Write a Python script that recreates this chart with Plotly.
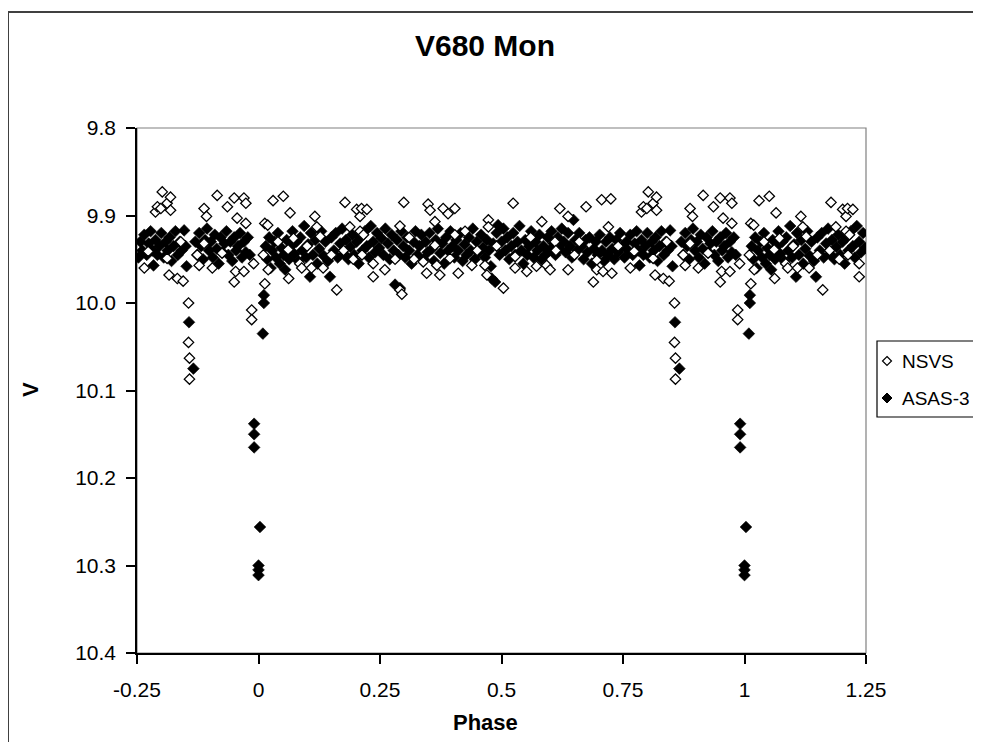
import plotly.graph_objects as go

# ---------------- data (phase 0..1, V magnitude) ----------------
nsvs_phase = [
    0.013, 0.013, 0.019, 0.010, 0.020, 0.030, 0.051, 0.065, 0.072, 0.061, 0.062, 0.085,
    0.089, 0.109, 0.116, 0.120, 0.127, 0.133, 0.161, 0.178, 0.188, 0.202, 0.209, 0.209,
    0.212, 0.216, 0.213, 0.223, 0.236, 0.236, 0.150, 0.040, 0.100, 0.175, 0.195,
    0.260, 0.281, 0.291, 0.291, 0.295, 0.299, 0.310, 0.320, 0.339, 0.346, 0.349, 0.353,
    0.363, 0.363, 0.367, 0.373, 0.380, 0.394, 0.404, 0.404, 0.390, 0.425, 0.411, 0.439,
    0.450, 0.466, 0.470, 0.473, 0.473, 0.490,
    0.504, 0.524, 0.528, 0.528, 0.552, 0.572, 0.583, 0.593, 0.600, 0.610, 0.612, 0.620,
    0.637, 0.637, 0.674, 0.689, 0.696, 0.696, 0.706, 0.709, 0.720, 0.725, 0.727, 0.650,
    0.740, 0.560, 0.660,
    0.788, 0.792, 0.802, 0.812, 0.799, 0.819, 0.819, 0.812, 0.816, 0.833, 0.773, 0.856,
    0.856, 0.858, 0.858, 0.874, 0.878, 0.888, 0.893, 0.888, 0.905, 0.915, 0.936, 0.950,
    0.970, 0.974, 0.956, 0.974, 0.953, 0.970, 0.950, 0.925, 0.986, 0.986, 0.990, 0.840,
    0.765, 0.845,
]
nsvs_mag = [
    9.909, 9.978, 9.911, 9.945, 9.962, 9.883, 9.878, 9.897, 9.926, 9.939, 9.972, 9.955,
    9.960, 9.960, 9.901, 9.913, 9.924, 9.960, 9.985, 9.885, 9.913, 9.893, 9.901, 9.918,
    9.892, 9.922, 9.945, 9.893, 9.955, 9.970, 9.945, 9.930, 9.935, 9.940, 9.950,
    9.962, 9.950, 9.912, 9.985, 9.990, 9.885, 9.925, 9.950, 9.953, 9.966, 9.887, 9.894,
    9.907, 9.934, 9.957, 9.968, 9.892, 9.949, 9.892, 9.922, 9.898, 9.918, 9.966, 9.957,
    9.940, 9.957, 9.968, 9.905, 9.913, 9.935,
    9.983, 9.886, 9.960, 9.947, 9.964, 9.958, 9.907, 9.957, 9.962, 9.930, 9.940, 9.892,
    9.901, 9.962, 9.890, 9.976, 9.951, 9.962, 9.882, 9.964, 9.913, 9.881, 9.966, 9.945,
    9.935, 9.925, 9.930,
    9.896, 9.890, 9.873, 9.886, 9.892, 9.879, 9.894, 9.949, 9.968, 9.972, 9.941, 10.000,
    10.045, 10.063, 10.087, 9.945, 9.957, 9.892, 9.901, 9.932, 9.960, 9.877, 9.890, 9.880,
    9.880, 9.886, 9.903, 9.909, 9.964, 9.964, 9.976, 9.943, 10.008, 10.019, 9.955, 9.930,
    9.960, 9.975,
]

asas_phase = [
    0.015, 0.018, 0.022, 0.025, 0.028, 0.033, 0.036, 0.040, 0.044, 0.047, 0.052, 0.055,
    0.058, 0.063, 0.067, 0.070, 0.074, 0.078, 0.082, 0.086, 0.090, 0.094, 0.098, 0.102,
    0.106, 0.108, 0.112, 0.117, 0.121, 0.125, 0.129, 0.134, 0.138, 0.143, 0.147, 0.150,
    0.155, 0.159, 0.163, 0.168, 0.172, 0.176, 0.180, 0.185, 0.189, 0.193, 0.197, 0.202,
    0.206, 0.210, 0.214, 0.219, 0.223, 0.227, 0.231, 0.236, 0.240, 0.244, 0.248, 0.253,
    0.257, 0.261, 0.266, 0.270, 0.274, 0.278, 0.281, 0.285, 0.288, 0.291, 0.294, 0.298,
    0.302, 0.306, 0.310, 0.315, 0.319, 0.323, 0.327, 0.331, 0.335, 0.340, 0.344, 0.348,
    0.352, 0.357, 0.361, 0.365, 0.369, 0.374, 0.378, 0.382, 0.386, 0.390, 0.395, 0.399,
    0.403, 0.407, 0.411, 0.416, 0.420, 0.424, 0.428, 0.433, 0.437, 0.441, 0.445, 0.449,
    0.453, 0.458, 0.462, 0.466, 0.470, 0.474, 0.478, 0.480, 0.483, 0.487, 0.490, 0.493,
    0.496, 0.500, 0.504, 0.508, 0.512, 0.516, 0.520, 0.524, 0.528, 0.533, 0.537, 0.541,
    0.545, 0.549, 0.553, 0.557, 0.561, 0.566, 0.570, 0.574, 0.578, 0.582, 0.586, 0.590,
    0.595, 0.599, 0.603, 0.607, 0.611, 0.616, 0.620, 0.624, 0.628, 0.632, 0.637, 0.641,
    0.645, 0.648, 0.652, 0.656, 0.660, 0.665, 0.669, 0.673, 0.677, 0.681, 0.686, 0.690,
    0.694, 0.698, 0.702, 0.707, 0.711, 0.715, 0.719, 0.723, 0.728, 0.732, 0.736, 0.740,
    0.744, 0.749, 0.753, 0.757, 0.761, 0.765, 0.770, 0.774, 0.778, 0.782, 0.784, 0.788,
    0.792, 0.796, 0.800, 0.805, 0.809, 0.813, 0.817, 0.821, 0.825, 0.829, 0.834, 0.838,
    0.842, 0.847, 0.850, 0.852, 0.857, 0.866, 0.870, 0.874, 0.878, 0.882, 0.886, 0.890,
    0.894, 0.898, 0.902, 0.906, 0.910, 0.914, 0.918, 0.922, 0.926, 0.930, 0.934, 0.938,
    0.942, 0.946, 0.950, 0.954, 0.958, 0.962, 0.966, 0.970, 0.974, 0.978, 0.982, 0.991,
    0.991, 0.991, 0.000, 0.000, 0.000, 0.003, 0.011, 0.011, 0.009,
]
asas_mag = [
    9.935, 9.950, 9.925, 9.960, 9.940, 9.930, 9.948, 9.920, 9.955, 9.937, 9.945, 9.962,
    9.928, 9.950, 9.935, 9.918, 9.944, 9.930, 9.952, 9.925, 9.940, 9.912, 9.948, 9.933,
    9.970, 9.920, 9.945, 9.928, 9.955, 9.938, 9.918, 9.946, 9.930, 9.952, 9.970, 9.925,
    9.940, 9.920, 9.948, 9.932, 9.915, 9.944, 9.928, 9.950, 9.936, 9.922, 9.945, 9.930,
    9.955, 9.925, 9.940, 9.918, 9.935, 9.948, 9.912, 9.930, 9.942, 9.920, 9.937, 9.926,
    9.945, 9.915, 9.932, 9.950, 9.922, 9.940, 9.979, 9.928, 9.945, 9.983, 9.918, 9.935,
    9.948, 9.925, 9.940, 9.955, 9.930, 9.918, 9.945, 9.935, 9.922, 9.950, 9.930, 9.942,
    9.920, 9.938, 9.952, 9.928, 9.915, 9.943, 9.932, 9.955, 9.925, 9.940, 9.918, 9.935,
    9.948, 9.928, 9.940, 9.920, 9.952, 9.933, 9.945, 9.925, 9.940, 9.915, 9.950, 9.930,
    9.942, 9.922, 9.937, 9.948, 9.928, 9.940, 9.958, 9.972, 9.932, 9.976, 9.920, 9.911,
    9.945, 9.930, 9.915, 9.940, 9.925, 9.950, 9.935, 9.920, 9.945, 9.930, 9.912, 9.940,
    9.955, 9.928, 9.945, 9.935, 9.918, 9.948, 9.930, 9.940, 9.922, 9.950, 9.935, 9.945,
    9.925, 9.940, 9.918, 9.932, 9.945, 9.925, 9.938, 9.915, 9.930, 9.942, 9.920, 9.935,
    9.948, 9.905, 9.928, 9.940, 9.920, 9.935, 9.950, 9.928, 9.942, 9.925, 9.955, 9.938,
    9.930, 9.945, 9.922, 9.940, 9.952, 9.930, 9.945, 9.925, 9.938, 9.950, 9.928, 9.942,
    9.920, 9.935, 9.948, 9.930, 9.940, 9.922, 9.945, 9.932, 9.918, 9.940, 9.957, 9.928,
    9.945, 9.935, 9.920, 9.948, 9.930, 9.940, 9.925, 9.952, 9.935, 9.918, 9.945, 9.930,
    9.940, 9.917, 9.935, 9.958, 10.022, 10.075, 9.930, 9.945, 9.920, 9.935, 9.950, 9.928,
    9.915, 9.940, 9.930, 9.948, 9.922, 9.938, 9.955, 9.925, 9.942, 9.932, 9.918, 9.945,
    9.930, 9.952, 9.925, 9.940, 9.935, 9.920, 9.948, 9.930, 9.942, 9.925, 9.945, 10.138,
    10.150, 10.165, 10.300, 10.305, 10.311, 10.256, 9.991, 10.000, 10.035,
]

x_ticks = [-0.25, 0, 0.25, 0.5, 0.75, 1, 1.25]
x_tick_text = ["-0.25", "0", "0.25", "0.5", "0.75", "1", "1.25"]
y_ticks = [9.8, 9.9, 10.0, 10.1, 10.2, 10.3, 10.4]
y_tick_text = ["9.8", "9.9", "10.0", "10.1", "10.2", "10.3", "10.4"]
series_names = ["NSVS", "ASAS-3"]


def wrap(ph, mg):
    """Phase diagram: show the points again one cycle earlier/later
    so that the plot covers phase -0.25 .. 1.25."""
    xs, ys = list(ph), list(mg)
    for p, m in zip(ph, mg):
        if p >= 0.75:
            xs.append(p - 1)
            ys.append(m)
        if p <= 0.25:
            xs.append(p + 1)
            ys.append(m)
    return xs, ys


nx, ny = wrap(nsvs_phase, nsvs_mag)
ax, ay = wrap(asas_phase, asas_mag)

FONT = "Liberation Sans, Arial, sans-serif"

# page offset of the figure (browser default body margin)
OFF = 8
W, H = 981 - OFF, 742 - OFF
# plot area in page pixels
PL, PR, PT, PB = 137, 866, 128, 653
PW, PH = PR - PL, PB - PT


def px(xp):
    return (xp - PL) / PW


def py(yp):
    return (PB - yp) / PH


fig = go.Figure()
fig.add_trace(go.Scatter(
    x=ax, y=ay, mode="markers", name=series_names[1], showlegend=False,
    marker=dict(symbol="diamond", size=9, color="black",
                line=dict(color="black", width=0.6)),
))
fig.add_trace(go.Scatter(
    x=nx, y=ny, mode="markers", name=series_names[0], showlegend=False,
    marker=dict(symbol="diamond", size=8, color="white",
                line=dict(color="black", width=1.3)),
))

diamond = "M 0 5 L 5 0 L 0 -5 L -5 0 Z"
diamond_small = "M 0 4.5 L 4.5 0 L 0 -4.5 L -4.5 0 Z"

fig.update_layout(
    width=W, height=H,
    margin=dict(l=PL - OFF, r=W - (PR - OFF), t=PT - OFF, b=H - (PB - OFF)),
    paper_bgcolor="white", plot_bgcolor="white",
    font=dict(family=FONT, size=21, color="black"),
    title=dict(text="<b>V680 Mon</b>", x=(485 - OFF) / W, xanchor="center",
               y=1 - (45 - OFF) / H, yanchor="middle", yref="container",
               font=dict(family=FONT, size=30, color="black")),
    showlegend=False,
    xaxis=dict(range=[-0.25, 1.25], tickvals=x_ticks, ticktext=x_tick_text,
               showgrid=False, zeroline=False, showline=True, automargin=False,
               linecolor="black", linewidth=1.5, ticks="outside",
               ticklen=9, tickwidth=1.5, tickcolor="black",
               ticklabelstandoff=8,
               tickfont=dict(family=FONT, size=21)),
    yaxis=dict(range=[10.4, 9.8], tickvals=y_ticks, ticktext=y_tick_text,
               showgrid=False, zeroline=False, showline=True, automargin=False,
               linecolor="black", linewidth=1.5, ticks="outside",
               ticklen=9, tickwidth=1.5, tickcolor="black",
               ticklabelstandoff=6,
               tickfont=dict(family=FONT, size=21)),
    shapes=[
        # plot-area frame (gray top/right)
        dict(type="rect", xref="paper", yref="paper", x0=0, x1=1, y0=0, y1=1,
             line=dict(color="#808080", width=1.2), layer="below"),
        # outer chart border (runs off the right and bottom edges)
        dict(type="rect", xref="paper", yref="paper",
             x0=px(8), x1=px(1000), y0=py(760), y1=py(12),
             line=dict(color="#404040", width=2), layer="below"),
        # legend box (cut off at the right edge)
        dict(type="rect", xref="paper", yref="paper",
             x0=px(877), x1=px(1000), y0=py(417), y1=py(341),
             line=dict(color="black", width=1.2), fillcolor="white",
             layer="above"),
        # legend symbols
        dict(type="path", xref="paper", yref="paper", xsizemode="pixel",
             ysizemode="pixel", xanchor=px(887), yanchor=py(361),
             path=diamond_small, fillcolor="white",
             line=dict(color="black", width=1.2), layer="above"),
        dict(type="path", xref="paper", yref="paper", xsizemode="pixel",
             ysizemode="pixel", xanchor=px(887), yanchor=py(398),
             path=diamond, fillcolor="black",
             line=dict(color="black", width=1), layer="above"),
    ],
    annotations=[
        dict(text="<b>Phase</b>", xref="paper", yref="paper",
             x=px(485), y=py(722), showarrow=False,
             xanchor="center", yanchor="middle",
             font=dict(family=FONT, size=22, color="black")),
        dict(text="<b>V</b>", xref="paper", yref="paper",
             x=px(30), y=py(390), showarrow=False,
             textangle=-90, xanchor="center", yanchor="middle",
             font=dict(family=FONT, size=22, color="black")),
        dict(text=series_names[0], xref="paper", yref="paper",
             x=px(900), y=py(361), showarrow=False,
             xanchor="left", yanchor="middle",
             font=dict(family=FONT, size=19, color="black")),
        dict(text=series_names[1], xref="paper", yref="paper",
             x=px(900), y=py(398), showarrow=False,
             xanchor="left", yanchor="middle",
             font=dict(family=FONT, size=19, color="black")),
    ],
)

fig.write_html("out.html")
